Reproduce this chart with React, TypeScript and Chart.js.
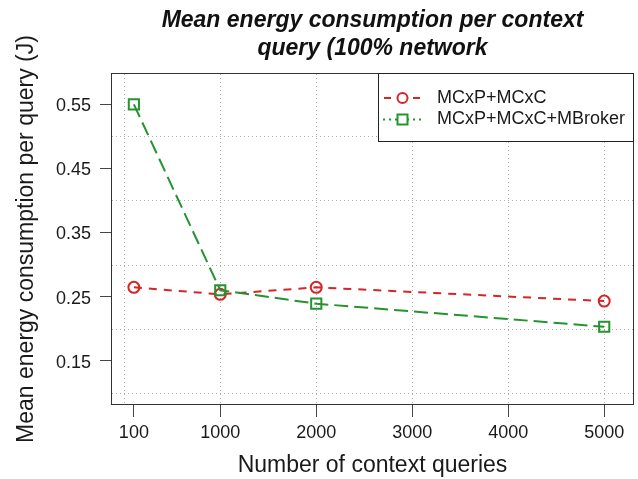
import React, { useEffect, useRef } from 'react';
import { Chart, registerables } from 'chart.js';

Chart.register(...registerables);

const queries = [100, 1000, 2000, 5000];
const mcxpMcxc = [0.2645, 0.2536, 0.2645, 0.243];
const mcxpMcxcMBroker = [0.55, 0.26, 0.239, 0.203];
const xTicks = [100, 1000, 2000, 3000, 4000, 5000];
const yTicks = [0.15, 0.25, 0.35, 0.45, 0.55];
const xGrid = [0, 1000, 2000, 3000, 4000, 5000];
const yGrid = [0.1, 0.2, 0.3, 0.4, 0.5];
const seriesNames = ['MCxP+MCxC', 'MCxP+MCxC+MBroker'];
const titleLines = ['Mean energy consumption per context', 'query (100% network'];
const xTitle = 'Number of context queries';
const yTitle = 'Mean energy consumption per query (J)';

const RED = '#d42626';
const GREEN = '#25932f';
const FONT = '"Liberation Sans", Arial, Helvetica, sans-serif';

const gridPlugin = {
  id: 'rgrid',
  beforeDatasetsDraw(chart: any) {
    const { ctx, chartArea: ca, scales } = chart;
    ctx.save();
    ctx.beginPath();
    ctx.rect(ca.left, ca.top, ca.right - ca.left, ca.bottom - ca.top);
    ctx.clip();
    ctx.strokeStyle = '#b0b0b0';
    ctx.lineWidth = 1;
    ctx.setLineDash([1, 3]);
    xGrid.forEach((v) => {
      const px = Math.round(scales.x.getPixelForValue(v)) + 0.5;
      ctx.beginPath();
      ctx.moveTo(px, ca.top);
      ctx.lineTo(px, ca.bottom);
      ctx.stroke();
    });
    yGrid.forEach((v) => {
      const py = Math.round(scales.y.getPixelForValue(v)) + 0.5;
      ctx.beginPath();
      ctx.moveTo(ca.left, py);
      ctx.lineTo(ca.right, py);
      ctx.stroke();
    });
    ctx.restore();
  },
};

const boxLegendPlugin = {
  id: 'rbox',
  afterDatasetsDraw(chart: any) {
    const { ctx, chartArea: ca } = chart;
    ctx.save();
    ctx.strokeStyle = '#333';
    ctx.lineWidth = 1;
    ctx.setLineDash([]);
    ctx.strokeRect(ca.left - 0.5, ca.top - 0.5, ca.right - ca.left + 1, ca.bottom - ca.top + 1);

    // legend
    const lx = 378.5;
    const ly = ca.top - 0.5;
    const lr = ca.right + 0.5;
    const lb = 141.5;
    ctx.fillStyle = '#fff';
    ctx.fillRect(lx, ly, lr - lx, lb - ly);
    ctx.strokeStyle = '#222';
    ctx.strokeRect(lx, ly, lr - lx, lb - ly);

    const rows = [98, 119.5];
    const mx = 402.5;
    // red entry
    ctx.strokeStyle = RED;
    ctx.lineWidth = 2;
    ctx.beginPath();
    ctx.moveTo(384, rows[0]);
    ctx.lineTo(391, rows[0]);
    ctx.moveTo(413, rows[0]);
    ctx.lineTo(420, rows[0]);
    ctx.stroke();
    ctx.beginPath();
    ctx.arc(mx, rows[0], 5, 0, Math.PI * 2);
    ctx.stroke();
    // green entry (dotted)
    ctx.strokeStyle = GREEN;
    ctx.setLineDash([2, 4]);
    ctx.beginPath();
    ctx.moveTo(383, rows[1]);
    ctx.lineTo(421, rows[1]);
    ctx.stroke();
    ctx.setLineDash([]);
    ctx.fillStyle = '#fff';
    ctx.fillRect(mx - 5, rows[1] - 5, 10, 10);
    ctx.strokeRect(mx - 5, rows[1] - 5, 10, 10);

    ctx.fillStyle = '#1a1a1a';
    ctx.font = `18px ${FONT}`;
    ctx.textBaseline = 'middle';
    ctx.textAlign = 'left';
    ctx.fillText(seriesNames[0], 437, rows[0]);
    ctx.fillText(seriesNames[1], 437, rows[1]);
    ctx.restore();
  },
  afterDraw(chart: any) {
    const { ctx, chartArea: ca } = chart;
    ctx.save();
    ctx.fillStyle = '#111';
    ctx.font = `italic bold 23px ${FONT}`;
    ctx.textAlign = 'center';
    ctx.textBaseline = 'alphabetic';
    const cx = (ca.left + ca.right) / 2;
    ctx.fillText(titleLines[0], cx, 27);
    ctx.fillText(titleLines[1], cx, 55);
    ctx.restore();
  },
};

const whiteBg = {
  id: 'whiteBg',
  beforeDraw(chart: any) {
    const { ctx, width, height } = chart;
    ctx.save();
    ctx.fillStyle = '#fff';
    ctx.fillRect(0, 0, width, height);
    ctx.restore();
  },
};

export default function App() {
  const ref = useRef<HTMLCanvasElement | null>(null);

  useEffect(() => {
    if (!ref.current) return;
    const chart = new Chart(ref.current, {
      type: 'line',
      data: {
        datasets: [
          {
            label: seriesNames[0],
            data: queries.map((q, i) => ({ x: q, y: mcxpMcxc[i] })),
            borderColor: RED,
            borderWidth: 2,
            borderDash: [8, 7],
            pointStyle: 'circle',
            pointRadius: 5.5,
            pointBorderWidth: 2,
            pointBorderColor: RED,
            pointBackgroundColor: 'rgba(0,0,0,0)',
            fill: false,
            tension: 0,
            order: 1,
          },
          {
            label: seriesNames[1],
            data: queries.map((q, i) => ({ x: q, y: mcxpMcxcMBroker[i] })),
            borderColor: GREEN,
            borderWidth: 2,
            borderDash: [14, 6],
            pointStyle: 'rect',
            pointRadius: 7.2,
            pointBorderWidth: 2,
            pointBorderColor: GREEN,
            pointBackgroundColor: 'rgba(0,0,0,0)',
            fill: false,
            tension: 0,
            order: 0,
          },
        ],
      },
      options: {
        animation: false,
        responsive: false,
        maintainAspectRatio: false,
        layout: { autoPadding: false, padding: { top: 74, right: 5, left: 0, bottom: 0 } },
        plugins: {
          legend: { display: false },
          title: { display: false },
          tooltip: { enabled: false },
        },
        scales: {
          x: {
            type: 'linear',
            min: -128,
            max: 5300,
            afterBuildTicks: (scale: any) => {
              scale.ticks = xTicks.map((v) => ({ value: v }));
            },
            afterFit: (scale: any) => {
              scale.height = 75;
              scale.paddingLeft = 0;
              scale.paddingRight = 0;
            },
            ticks: {
              autoSkip: false,
              maxRotation: 0,
              minRotation: 0,
              padding: 5,
              color: '#1a1a1a',
              font: { family: FONT, size: 18 },
              callback: (v: any) => String(v),
            },
            grid: {
              drawOnChartArea: false,
              drawTicks: true,
              tickLength: 13,
              color: '#444',
              lineWidth: 1,
            },
            border: { display: false },
            title: {
              display: true,
              text: xTitle,
              color: '#1a1a1a',
              font: { family: FONT, size: 23 },
              padding: { top: 0, bottom: 0 },
            },
          },
          y: {
            type: 'linear',
            min: 0.0825,
            max: 0.5973,
            afterBuildTicks: (scale: any) => {
              scale.ticks = yTicks.map((v) => ({ value: v }));
            },
            afterFit: (scale: any) => {
              scale.width = 112;
              scale.paddingTop = 0;
              scale.paddingBottom = 0;
            },
            ticks: {
              autoSkip: false,
              padding: 9,
              labelOffset: 2,
              color: '#1a1a1a',
              font: { family: FONT, size: 18 },
              callback: (v: any) => Number(v).toFixed(2),
            },
            grid: {
              drawOnChartArea: false,
              drawTicks: true,
              tickLength: 12,
              color: '#444',
              lineWidth: 1,
            },
            border: { display: false },
            title: {
              display: true,
              text: yTitle,
              color: '#1a1a1a',
              font: { family: FONT, size: 23 },
              padding: { top: 13, bottom: 0 },
            },
          },
        },
      },
      plugins: [whiteBg, gridPlugin, boxLegendPlugin],
    } as any);
    return () => chart.destroy();
  }, []);

  return (
    <div style={{ position: 'fixed', left: 0, top: 0, width: 638, height: 479, background: '#fff' }}>
      <canvas ref={ref} width={638} height={479} style={{ display: 'block', width: 638, height: 479 }} />
    </div>
  );
}
